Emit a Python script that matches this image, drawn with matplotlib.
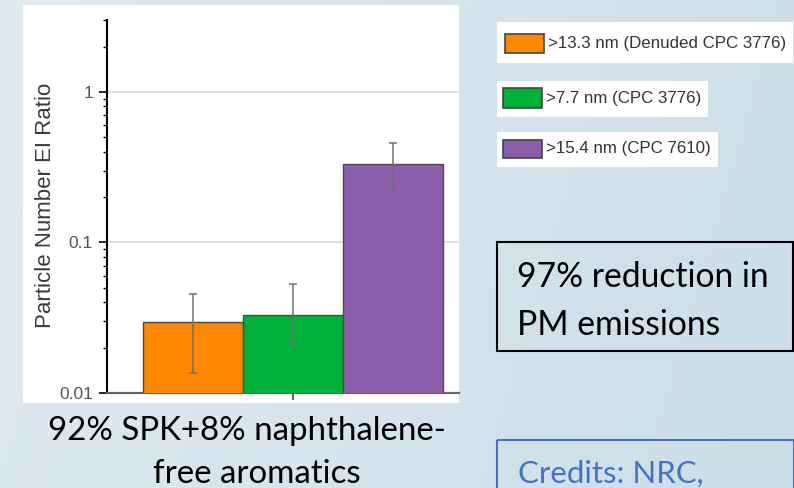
import numpy as np
import matplotlib.pyplot as plt
from matplotlib.patches import Rectangle

# data
labels = ['>13.3 nm (Denuded CPC 3776)', '>7.7 nm (CPC 3776)', '>15.4 nm (CPC 7610)']
ratio = np.array([0.0295, 0.0328, 0.334])
err_low = np.array([0.0135, 0.0207, 0.227])
err_high = np.array([0.0453, 0.0527, 0.458])
colors = ['#ff8800', '#00b038', '#8c5dab']
yticks = [0.01, 0.1, 1]
ytick_labels = ['0.01', '0.1', '1']
ylabel = 'Particle Number EI Ratio'
caption = ['92% SPK+8% naphthalene-', 'free aromatics']
note = ['97% reduction in', 'PM emissions']
credits = 'Credits: NRC,'

W, H = 794, 488
fig = plt.figure(figsize=(W / 100, H / 100), dpi=100)

# slide background, pixel coords (y down)
bg = fig.add_axes([0, 0, 1, 1], zorder=-10)
bg.set_xlim(0, W)
bg.set_ylim(H, 0)
bg.axis('off')
gx = np.linspace(0, 1, 200)
gy = np.linspace(0, 1, 120)[:, None]
left = np.array([224, 234, 241]) / 255
right = np.array([203, 222, 233]) / 255
t = (0.85 * gx[None, :] + 0.15 * gy)[..., None]
img = left * (1 - t) + right * t
bg.imshow(img, extent=[0, W, H, 0], aspect='auto', zorder=0)

# white chart panel
bg.add_patch(Rectangle((23, 5), 436, 398, facecolor='white', edgecolor='none', zorder=1))

# chart
ax = fig.add_axes([107 / W, 1 - 393 / H, (459 - 107) / W, (393 - 20) / H])
ax.set_facecolor('none')
x = np.arange(len(ratio)) - 1
ax.bar(x, ratio, width=1, color=colors, edgecolor='#4a4a4a', linewidth=1,
       yerr=[ratio - err_low, err_high - ratio],
       error_kw=dict(ecolor='#707070', elinewidth=1.1, capsize=3, capthick=1.1), zorder=3)
ax.set_yscale('log')
ax.set_ylim(0.01, 3)
ax.set_xlim(-1.86, 1.66)
ax.set_yticks(yticks)
ax.set_yticklabels(ytick_labels, fontsize=12.5, color='#555555', family='Liberation Sans')
ax.set_xticks([0])
ax.set_xticklabels([''])
ax.tick_params(axis='y', which='major', length=6, width=1.2, color='black', pad=4)
ax.tick_params(axis='y', which='minor', length=3, width=1, color='black')
ax.tick_params(axis='x', length=5, width=1.6, color='#666666')
ax.yaxis.grid(True, which='major', color='#d9d9d9', linewidth=1.2, zorder=0)
ax.set_axisbelow(True)
for s in ['top', 'right']:
    ax.spines[s].set_visible(False)
ax.spines['left'].set_linewidth(1.5)
ax.spines['left'].set_color('black')
ax.spines['bottom'].set_linewidth(1.6)
ax.spines['bottom'].set_color('#666666')

bg.text(46, 205, ylabel, rotation=90, ha='center', va='center', fontsize=16,
        color='#3a3a3a', family='Liberation Sans', zorder=2)

# legend boxes
boxes = [(497, 22, 296, 41), (497, 81, 211, 36), (497, 132, 221, 35)]
swatches = [(505, 34, 39, 19), (503, 88, 39, 20), (503, 140, 39, 18)]
for (bx, by, bw, bh), (sx, sy, sw, sh), c, lab in zip(boxes, swatches, colors, labels):
    bg.add_patch(Rectangle((bx, by), bw, bh, facecolor='white', edgecolor='none', zorder=2))
    bg.add_patch(Rectangle((sx, sy), sw, sh, facecolor=c, edgecolor='#444444', linewidth=1.2, zorder=3))
    bg.text(sx + sw + 4, sy + sh / 2, lab, ha='left', va='center', fontsize=12.2,
            color='#333333', family='Liberation Sans', zorder=3)

# note box
bg.add_patch(Rectangle((497, 242), 296, 109, facecolor='none', edgecolor='black', linewidth=1.5, zorder=2))
bg.text(517, 287, note[0], ha='left', va='baseline', fontsize=24.2, family='Lato', zorder=3)
bg.text(517, 335, note[1], ha='left', va='baseline', fontsize=24.2, family='Lato', zorder=3)

# credits box
bg.add_patch(Rectangle((497, 440), 297, 60, facecolor='none', edgecolor='#4472c4', linewidth=1.5, zorder=2))
bg.text(518, 483, credits, ha='left', va='baseline', fontsize=22.4, family='Lato', color='#4472c4', zorder=3)

# caption under the chart
bg.text(246.5, 440, caption[0], ha='center', va='baseline', fontsize=23.8, family='Lato', zorder=3)
bg.text(256.5, 483, caption[1], ha='center', va='baseline', fontsize=23.8, family='Lato', zorder=3)

fig.savefig('out.png', dpi=100)
